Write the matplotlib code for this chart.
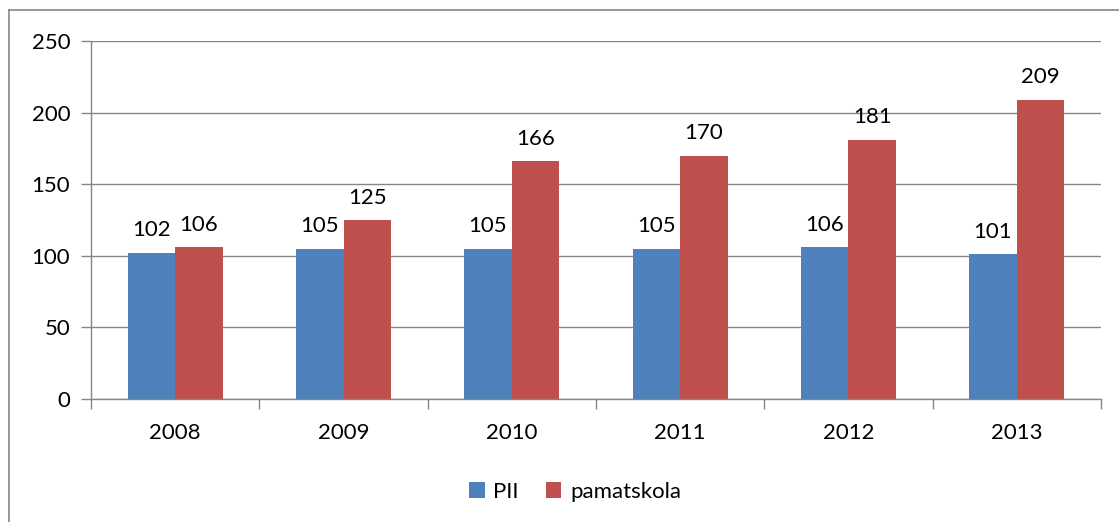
import numpy as np
import matplotlib.pyplot as plt
from matplotlib.lines import Line2D

# Data
years = ["2008", "2009", "2010", "2011", "2012", "2013"]
pii = [102, 105, 105, 105, 106, 101]
pamatskola = [106, 125, 166, 170, 181, 209]

plt.rcParams['font.family'] = ['Lato', 'DejaVu Sans']
grey = "#868686"
fs = 16

fig = plt.figure(figsize=(11.19, 5.22), dpi=100)
ax = fig.add_axes([91 / 1119, 1 - 399 / 522, 1010 / 1119, 358 / 522])

x = np.arange(len(years))
w = 0.283
b1 = ax.bar(x - w / 2, pii, w, color="#4F81BD", label="PII", zorder=3)
b2 = ax.bar(x + w / 2, pamatskola, w, color="#C0504D", label="pamatskola", zorder=3)

# value labels
for bars in (b1, b2):
    for r in bars:
        ax.annotate(str(int(r.get_height())), (r.get_x() + r.get_width() / 2, r.get_height()),
                    xytext=(0, 9), textcoords="offset points", ha="center", va="bottom",
                    fontsize=fs, color="black")

ax.set_xlim(-0.5, 5.5)
ax.set_ylim(0, 250)
ax.set_yticks(range(0, 251, 50))
ax.set_xticks(x)
ax.set_xticklabels(years)
ax.set_xticks(np.arange(-0.5, 6, 1), minor=True)
ax.tick_params(axis="x", which="major", length=0, pad=17, labelsize=fs)
ax.tick_params(axis="x", which="minor", length=7, color=grey, width=1)
ax.tick_params(axis="y", length=7, color=grey, width=1, pad=8, labelsize=fs)
ax.grid(axis="y", color=grey, linewidth=1, zorder=0)

for s in ("top", "right"):
    ax.spines[s].set_visible(False)
for s in ("left", "bottom"):
    ax.spines[s].set_color(grey)
    ax.spines[s].set_linewidth(1)
    ax.spines[s].set_zorder(4)

fig.legend(handles=[b1, b2], loc="center", bbox_to_anchor=(575 / 1119, 1 - 492 / 522),
           ncol=2, frameon=False, fontsize=fs, handlelength=0.7, handleheight=0.7,
           handletextpad=0.4, columnspacing=1.2)

# outer chart frame (only top and left edges are visible)
fig.add_artist(Line2D([9 / 1119, 1], [1 - 10 / 522, 1 - 10 / 522], color=grey, lw=1.2,
                      transform=fig.transFigure))
fig.add_artist(Line2D([9 / 1119, 9 / 1119], [0, 1 - 10 / 522], color=grey, lw=1.2,
                      transform=fig.transFigure))

fig.savefig("out.png", dpi=100)
